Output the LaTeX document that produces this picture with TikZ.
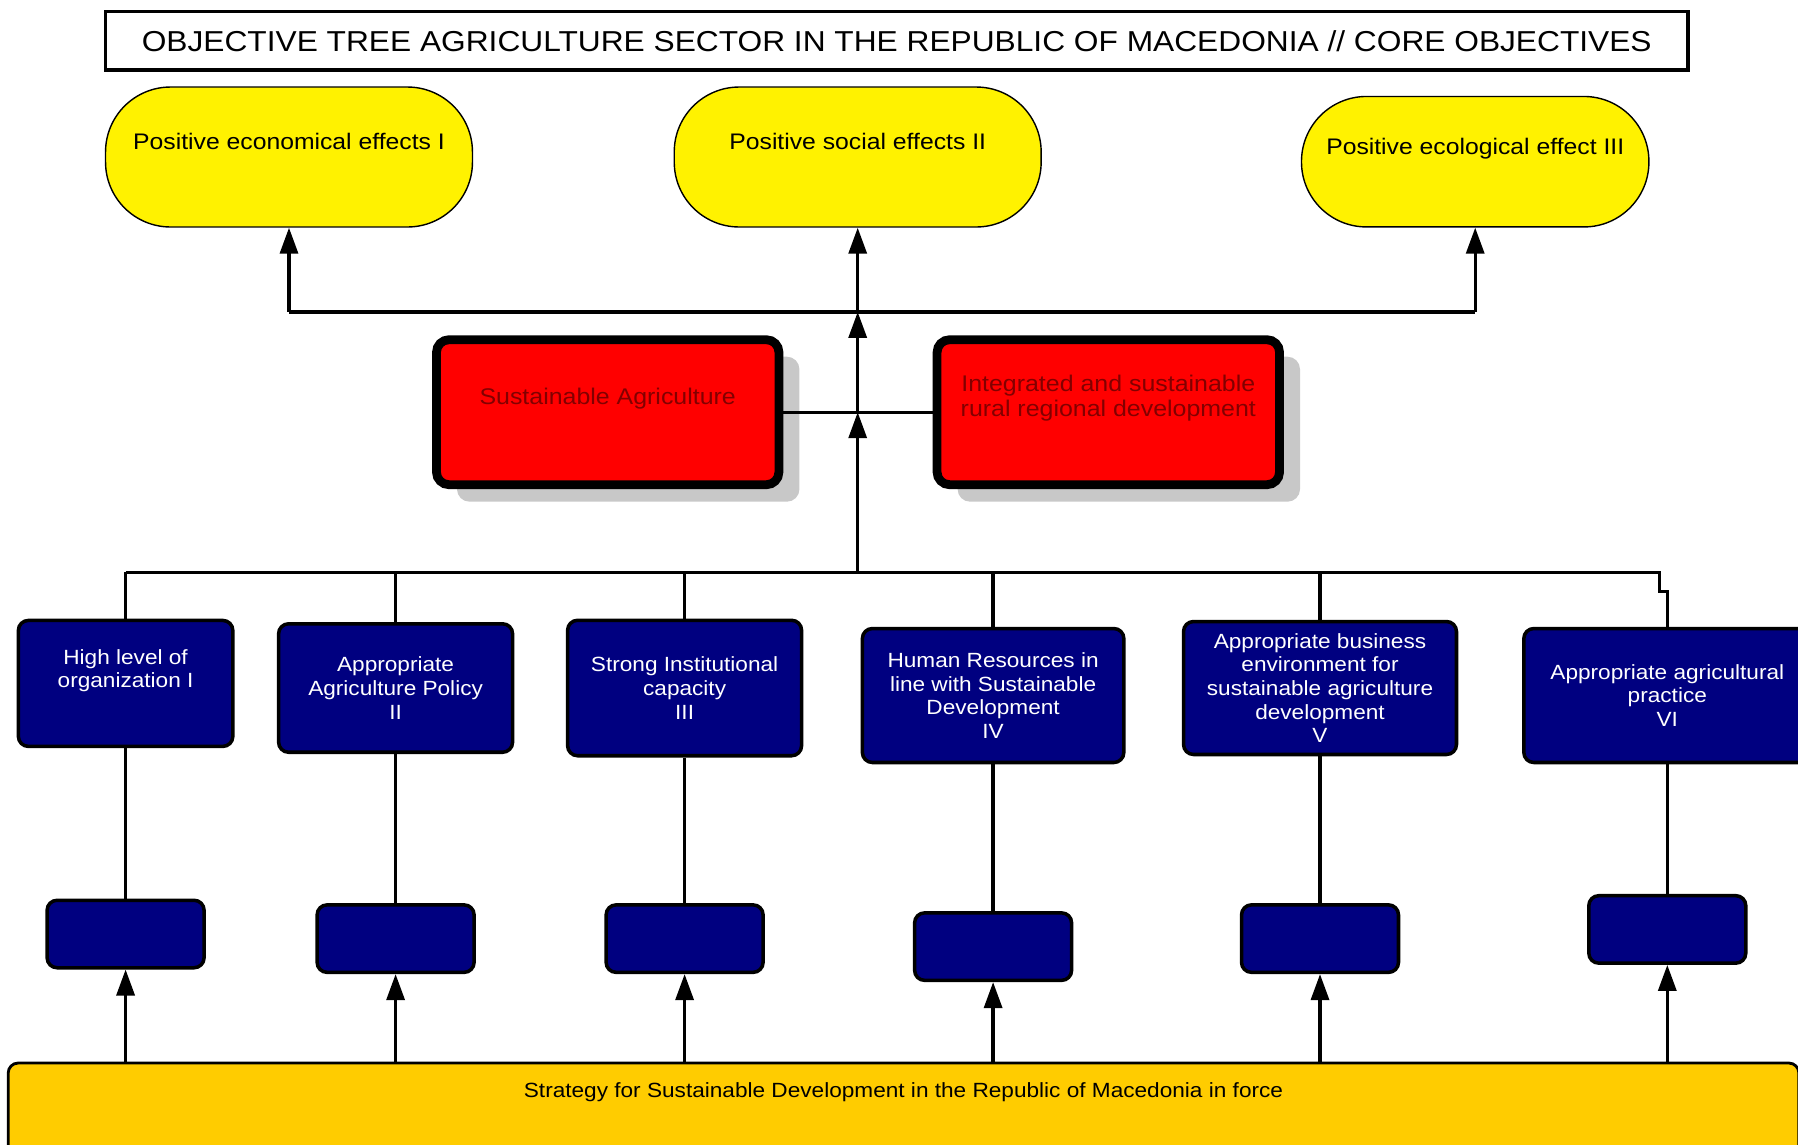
\documentclass[tikz,border=0pt]{standalone}
\usepackage{fontspec}
\setmainfont{Liberation Sans}[FakeStretch=1.1]
\usetikzlibrary{arrows.meta,shadows}
\definecolor{navybox}{RGB}{0,0,128}
\definecolor{goldbar}{RGB}{255,204,0}
\definecolor{darkred}{RGB}{130,0,0}
\definecolor{shadowgray}{RGB}{200,200,200}
\begin{document}
\begin{tikzpicture}[
			x = 0.02cm, y = -0.02cm,
			line/.style = {line width=1.9pt},
			arr/.style = {line width=1.9pt, -{Triangle[length=0.52cm,width=0.36cm]}},
			titlebox/.style = {draw, line width=2pt, minimum width=31.65cm, minimum height=1.17cm, font=\fontsize{16.4}{19}\selectfont},
			effect/.style = {draw, line width=0.8pt, fill=yellow, rounded corners=1.3cm, minimum height=2.8cm, text depth=0.62cm, font=\fontsize{12.8}{15}\selectfont},
			goal/.style = {draw, line width=5pt, fill=red, rounded corners=0.25cm, minimum width=6.85cm, minimum height=2.9cm, text=darkred, align=center, text depth=0.65cm, font=\fontsize{12.9}{14.4}\selectfont, drop shadow={shadow xshift=0.41cm, shadow yshift=-0.34cm, fill=shadowgray, opacity=1}},
			area/.style = {draw, line width=2pt, fill=navybox, text=white, rounded corners=0.2cm, align=center, inner sep=2pt, font=\fontsize{11.7}{13.4}\selectfont},
			measure/.style = {draw, line width=2pt, fill=navybox, rounded corners=0.2cm, minimum width=3.14cm, minimum height=1.35cm},
			strategy/.style = {draw, line width=1.6pt, fill=goldbar, rounded corners=0.2cm, minimum width=35.82cm, minimum height=2.34cm, text depth=1.27cm, font=\fontsize{11.7}{14}\selectfont}
			]

			\useasboundingbox (0,0) rectangle (1798,1144);

			\node[titlebox] (title) at (896.7,40.7) {OBJECTIVE TREE AGRICULTURE SECTOR IN THE REPUBLIC OF MACEDONIA // CORE OBJECTIVES};

			\node[effect, minimum width=7.34cm] (e1) at (289,157) {Positive economical effects I};
			\node[effect, minimum width=7.34cm] (e2) at (857.7,157) {Positive social effects II};
			\node[effect, minimum width=6.95cm, minimum height=2.61cm] (e3) at (1475.2,161.7) {Positive ecological effect III};

			\node[goal] (r1) at (607.7,412.2) {Sustainable Agriculture};
			\node[goal] (r2) at (1108.3,412.2) {Integrated and sustainable\\rural regional development};

			\node[area, minimum width=4.29cm, minimum height=2.52cm, text depth=0.59cm] (b1) at (125.6,683.4) {High level of\\organization I};
			\node[area, minimum width=4.68cm, minimum height=2.57cm] (b2) at (395.6,688) {Appropriate\\Agriculture Policy\\II};
			\node[area, minimum width=4.68cm, minimum height=2.71cm] (b3) at (684.6,688) {Strong Institutional\\capacity\\III};
			\node[area, minimum width=5.23cm, minimum height=2.68cm] (b4) at (993.1,695.5) {Human Resources in\\line with Sustainable\\Development\\IV};
			\node[area, minimum width=5.46cm, minimum height=2.66cm] (b5) at (1320,688) {Appropriate business\\environment for\\sustainable agriculture\\development\\V};
			\node[area, minimum width=5.74cm, minimum height=2.68cm] (b6) at (1667.3,695.5) {Appropriate agricultural\\practice\\VI};

			\node[measure] (s1) at (125.6,934) {};
			\node[measure] (s2) at (395.6,938.6) {};
			\node[measure] (s3) at (684.6,938.6) {};
			\node[measure] (s4) at (993.1,946.6) {};
			\node[measure] (s5) at (1320,938.6) {};
			\node[measure] (s6) at (1667.3,929.4) {};

			\node[strategy] (st) at (903.5,1121.5) {Strategy for Sustainable Development in the Republic of Macedonia in force};

			\coordinate (top) at (857.7,311.9);
			\coordinate (bus) at (857.7,572.2);
			\coordinate (mid) at (r1.east -| top);

			\draw[line] (e1.south |- top) -- (e3.south |- top);
			\foreach \i in {1,2,3}
				\draw[arr] (e\i.south |- top) -- (e\i.south);
			\draw[arr] (mid) -- (top);
			\draw[arr] (bus) -- (mid);
			\draw[line] (r1.east) -- (r2.west);

			\draw[line] (b1.north |- bus) -- (1659.3,572.2) -- (1659.3,591.7) -- (1667.3,591.7) -- (b6.north);
			\foreach \i in {1,...,5}
				\draw[line] (b\i.north |- bus) -- (b\i.north);
			\foreach \i in {1,...,6}{
				\draw[line] (b\i.south) -- (s\i.north);
				\draw[arr] (s\i.south |- st.north) -- (s\i.south);
			}

		\end{tikzpicture}
\end{document}
